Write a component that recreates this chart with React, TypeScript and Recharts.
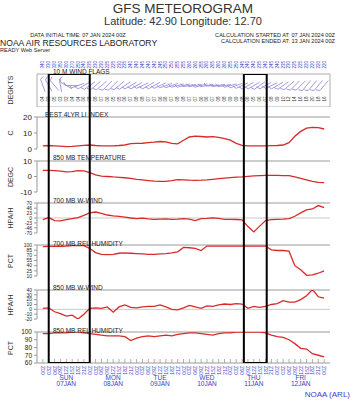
import React from 'react';
import {
  LineChart,
  Line,
  XAxis,
  YAxis,
  ReferenceLine,
  ReferenceArea,
  ScatterChart,
  Scatter,
} from 'recharts';

// 3-hourly steps, 07 JAN 00Z .. 13 JAN 00Z
const timeLabels = [
  '00Z', '03Z', '06Z', '09Z', '12Z', '15Z', '18Z', '21Z',
  '00Z', '03Z', '06Z', '09Z', '12Z', '15Z', '18Z', '21Z',
  '00Z', '03Z', '06Z', '09Z', '12Z', '15Z', '18Z', '21Z',
  '00Z', '03Z', '06Z', '09Z', '12Z', '15Z', '18Z', '21Z',
  '00Z', '03Z', '06Z', '09Z', '12Z', '15Z', '18Z', '21Z',
  '00Z', '03Z', '06Z', '09Z', '12Z', '15Z', '18Z', '21Z',
  '00Z',
];
const dayNames = ['SUN', 'MON', 'TUE', 'WED', 'THU', 'FRI'];
const dayDates = ['07JAN', '08JAN', '09JAN', '10JAN', '11JAN', '12JAN'];

const liIndex = [2, 2.2, 2, 1.8, 1.5, 1.7, 2, 2.3, 2.5, 2.2, 2, 2, 2, 2.2, 2.5, 3.3, 3.5, 3.6, 4, 4.3, 4.7, 4.5, 3.5, 3.2, 5.5, 7.5, 8, 7.8, 7.5, 7.7, 7.2, 6.5, 5.5, 3.5, 2.2, 2, 2, 2, 2, 2.1, 2.2, 2.5, 4, 8, 11, 13, 13.5, 13.3, 12.5];
const temp850 = [4, 4, 3.8, 3.5, 3, 3.2, 3.8, 3.6, 2.5, 1, 0.3, 0, -0.3, -0.5, -0.8, -1.2, -1.8, -2.2, -2.6, -3, -3.2, -3.1, -2.6, -2, -2.2, -2.4, -2.5, -2.4, -2.2, -1.8, -1.4, -1, -0.7, -0.4, -0.2, 0.1, 0.4, 0.6, 0.7, 0.7, 0.7, 0.6, 0.5, -0.3, -1.2, -2.2, -3.2, -3.8, -4];
const wind700 = [-8, 2, -12, -13, -8, -3, 2, 12, 24, 28, 22, 14, 10, 8, 4, 0, -3, -1, -4, -6, -5, -4, -6, -5, -3, -5, -12, -3, -2, 1, -2, -6, -6, -7, -9, -40, -65, -38, -12, -8, -6, -5, -3, 8, 24, 38, 42, 58, 48];
const rh700 = [95, 96, 96, 96, 97, 98, 99, 98, 90, 78, 73, 72, 73, 76, 77, 76, 75, 74, 73, 73, 74, 75, 77, 80, 93, 92, 90, 84, 97, 97, 97, 97, 97, 97, 97, 97, 97, 97, 97, 86, 84, 84, 82, 40, 28, 12, 13, 18, 25];
const wind850 = [2, 3, -5, -9, -14, -12, -20, -10, 2, 3, 2, 5, -6, 5, 9, 4, 3, 5, 6, 6, 9, 5, 0, -1, 3, 8, 5, 2, 7, 6, 9, 11, 10, 12, 11, 2, 6, 4, 6, 10, 12, 18, 15, 15, 20, 28, 41, 26, 23];
const rh850 = [98, 98, 99, 99, 99, 100, 100, 99, 98, 97, 96, 95, 95, 95, 94, 89, 92, 94, 95, 94, 95, 96, 95, 97, 98, 99, 99, 98, 97, 96, 98, 99, 99, 100, 100, 100, 100, 100, 99, 96, 94, 93, 90, 85, 79, 78, 72, 70, 68];
const windDir = [340, 330, 320, 350, 300, 270, 250, 240, 235, 230, 230, 225, 225, 230, 235, 240, 240, 245, 240, 240, 245, 250, 250, 255, 255, 260, 260, 255, 260, 265, 260, 260, 255, 250, 245, 240, 240, 235, 240, 245, 240, 235, 230, 225, 225, 220, 220, 220, 220];
const windSpd = [4, 3, 5, 3, 2, 4, 4, 6, 8, 8, 7, 6, 5, 5, 6, 7, 8, 8, 7, 7, 6, 6, 7, 8, 8, 7, 7, 6, 6, 7, 8, 8, 9, 9, 8, 6, 5, 6, 7, 8, 9, 10, 12, 14, 16, 18, 20, 18, 16];

// highlighted periods (in time steps)
const boxes = [
  { from: 1, to: 8 },
  { from: 34.3, to: 38.2 },
];

const rows = timeLabels.map((t, i) => ({
  i,
  t,
  li: liIndex[i],
  temp: temp850[i],
  w700: wind700[i],
  rh700: rh700[i],
  w850: wind850[i],
  rh850: rh850[i],
  dir: windDir[i],
  spd: windSpd[i],
  box: 0.5,
}));
const stepTicks = rows.map((r) => r.i);

const FONT = '"Liberation Sans", Arial, Helvetica, sans-serif';
const RED = '#d92a2a';
const BLUE = '#3c3cc8';
const BARB = '#8a82d8';
const AXIS = '#9a9a9a';
const X_DOMAIN = [-1, 49];
const W = 352;
const LEFT = 37;
const RIGHT = 22;
const PAD = 6;

const UpTick = (props: any) => {
  const { x, y } = props;
  return <line x1={x} x2={x} y1={y} y2={y - 4} stroke={AXIS} strokeWidth={0.8} />;
};

const TimeTick = (props: any) => {
  const { x, y, payload } = props;
  const i = payload.value;
  const day = i % 8 === 4 ? (i - 4) / 8 : -1;
  return (
    <g>
      <line x1={x} x2={x} y1={y} y2={y - 4} stroke={AXIS} strokeWidth={0.8} />
      <text
        x={x}
        y={y + 3}
        transform={`rotate(-90 ${x} ${y + 3})`}
        textAnchor="end"
        dominantBaseline="central"
        fontSize={5}
        fill={BLUE}
        fontFamily={FONT}
      >
        {timeLabels[i]}
      </text>
      {day >= 0 && (
        <text x={x} y={y + 17} textAnchor="middle" fontSize={6.5} fill={BLUE} fontFamily={FONT}>
          <tspan x={x}>{dayNames[day]}</tspan>
          <tspan x={x} dy={6}>{dayDates[day]}</tspan>
        </text>
      )}
    </g>
  );
};

const Barb = (props: any) => {
  const { cx, cy, payload } = props;
  const a = (payload.dir * Math.PI) / 180;
  const L = 13;
  const dx = Math.sin(a) * L;
  const dy = -Math.cos(a) * L;
  const x0 = cx - dx / 2;
  const y0 = cy - dy / 2;
  const x1 = cx + dx / 2;
  const y1 = cy + dy / 2;
  const fa = a + Math.PI / 3;
  const fx = x1 + Math.sin(fa) * 4;
  const fy = y1 - Math.cos(fa) * 4;
  return (
    <g>
      <line x1={x0} y1={y0} x2={x1} y2={y1} stroke={BARB} strokeWidth={0.8} />
      <line x1={x1} y1={y1} x2={fx} y2={fy} stroke={BARB} strokeWidth={0.8} />
      <text
        x={cx}
        y={cy + 11}
        transform={`rotate(-90 ${cx} ${cy + 11})`}
        textAnchor="end"
        dominantBaseline="central"
        fontSize={4.5}
        fill="#333"
        fontFamily={FONT}
      >
        {String(payload.spd).padStart(2, '0')}
      </text>
      <text
        x={cx}
        y={cy - 17}
        transform={`rotate(-90 ${cx} ${cy - 17})`}
        textAnchor="start"
        dominantBaseline="central"
        fontSize={4.5}
        fill={BLUE}
        fontFamily={FONT}
      >
        {payload.dir}
      </text>
    </g>
  );
};

type PanelProps = {
  top: number;
  height: number;
  dataKey: string;
  domain: number[];
  ticks: number[];
  minor: number[];
  fontSize?: number;
  zero?: boolean;
  last?: boolean;
};

const Panel = ({ top, height, dataKey, domain, ticks, minor, fontSize = 8, zero, last }: PanelProps) => {
  const axisH = last ? 32 : 0;
  const bottom = last ? 0 : PAD;
  return (
    <div style={{ position: 'absolute', left: 0, top: top - PAD }}>
      <LineChart
        width={W}
        height={height + axisH + PAD + bottom}
        data={rows}
        margin={{ top: PAD, right: RIGHT, bottom, left: 0 }}
      >
        <XAxis
          dataKey="i"
          type="number"
          domain={X_DOMAIN}
          ticks={stepTicks}
          interval={0}
          height={axisH}
          tickSize={0}
          tickMargin={0}
          tickLine={false}
          axisLine={{ stroke: AXIS }}
          tick={last ? <TimeTick /> : <UpTick />}
          allowDataOverflow
        />
        <YAxis
          yAxisId="l"
          domain={domain}
          ticks={ticks}
          interval={0}
          width={LEFT}
          tickSize={3}
          tickMargin={2}
          stroke={AXIS}
          tick={{ fontSize, fill: '#222', fontFamily: FONT }}
          allowDataOverflow
        />
        <YAxis
          yAxisId="r"
          orientation="right"
          domain={domain}
          ticks={minor}
          interval={0}
          width={0}
          tickSize={3}
          mirror
          tick={false}
          stroke={AXIS}
          allowDataOverflow
        />
        <ReferenceLine yAxisId="l" y={domain[1]} stroke={AXIS} />
        {zero && <ReferenceLine yAxisId="l" y={0} stroke="#c9c9c9" />}
        <Line
          yAxisId="l"
          type="linear"
          dataKey={dataKey}
          stroke={RED}
          strokeWidth={1.3}
          dot={false}
          isAnimationActive={false}
        />
      </LineChart>
    </div>
  );
};

const panelTitles = [
  { text: '10 M  WIND FLAGS', x: 53, y: 74 },
  { text: 'BEST 4LYR LI INDEX', x: 45, y: 117 },
  { text: '850 MB  TEMPERATURE', x: 53, y: 160 },
  { text: '700 MB  W-WIND', x: 53, y: 203 },
  { text: '700 MB  REL HUMIDITY', x: 53, y: 246 },
  { text: '850 MB  W-WIND', x: 53, y: 290 },
  { text: '850 MB  REL HUMIDITY', x: 53, y: 333 },
];
const axisNames = [
  { text: 'DEGKTS', y: 90 },
  { text: 'C', y: 133 },
  { text: 'DEGC', y: 177 },
  { text: 'HPA/H', y: 218 },
  { text: 'PCT', y: 261 },
  { text: 'HPA/H', y: 305 },
  { text: 'PCT', y: 348 },
];

export default function App() {
  return (
    <div style={{ position: 'absolute', left: 0, top: 0, width: W, height: 400, background: '#fff', fontFamily: FONT }}>
      {/* wind flags */}
      <div style={{ position: 'absolute', left: 0, top: 56 }}>
        <ScatterChart width={W} height={51} margin={{ top: 18, right: RIGHT, bottom: 0, left: LEFT }}>
          <XAxis dataKey="i" type="number" domain={X_DOMAIN} hide allowDataOverflow />
          <YAxis dataKey="y" type="number" domain={[0, 1]} hide />
          <ReferenceArea x1={-1} x2={49} y1={0} y2={1} fill="none" stroke={AXIS} strokeWidth={0.8} />
          <Scatter data={rows.map((r) => ({ ...r, y: 0.65 }))} shape={<Barb />} isAnimationActive={false} />
        </ScatterChart>
      </div>

      <Panel top={117} height={32} dataKey="li" domain={[0, 20]} ticks={[0, 10, 20]} minor={[0, 2, 4, 6, 8, 10, 12, 14, 16, 18, 20]} />
      <Panel top={161} height={31} dataKey="temp" domain={[-10, 10]} ticks={[-10, 0, 10]} minor={[-10, -5, 0, 5, 10]} />
      <Panel top={203} height={30} dataKey="w700" domain={[-70, 70]} ticks={[-70, -46, -23, 0, 23, 46, 70]} minor={[-70, -46, -23, 0, 23, 46, 70]} fontSize={5} zero />
      <Panel top={245} height={31} dataKey="rh700" domain={[10, 100]} ticks={[10, 25, 40, 55, 70, 85, 100]} minor={[10, 25, 40, 55, 70, 85, 100]} fontSize={5} />
      <Panel top={290} height={29} dataKey="w850" domain={[-20, 40]} ticks={[-20, -10, 0, 10, 20, 30, 40]} minor={[-20, -10, 0, 10, 20, 30, 40]} fontSize={5} zero />
      <Panel top={332} height={31} dataKey="rh850" domain={[60, 100]} ticks={[60, 70, 80, 90, 100]} minor={[60, 65, 70, 75, 80, 85, 90, 95, 100]} fontSize={6.5} last />

      {/* highlighted periods */}
      <div style={{ position: 'absolute', left: 0, top: 74 }}>
        <LineChart width={W} height={289} data={rows} margin={{ top: 0, right: RIGHT, bottom: 0, left: LEFT }}>
          <XAxis dataKey="i" type="number" domain={X_DOMAIN} hide allowDataOverflow />
          <YAxis type="number" domain={[0, 1]} hide allowDataOverflow />
          <Line dataKey="box" stroke="none" dot={false} isAnimationActive={false} />
          {boxes.map((b, k) => (
            <ReferenceArea
              key={k}
              x1={b.from}
              x2={b.to}
              y1={0}
              y2={1}
              fill="none"
              fillOpacity={0}
              stroke="#000"
              strokeWidth={2}
              ifOverflow="visible"
            />
          ))}
        </LineChart>
      </div>

      <svg width={W} height={400} style={{ position: 'absolute', left: 0, top: 0, pointerEvents: 'none' }}>
        <text x={183} y={13} textAnchor="middle" fontSize={13.5} fill="#333">GFS METEOROGRAM</text>
        <text x={183} y={25} textAnchor="middle" fontSize={11} fill="#333">Latitude: 42.90 Longitude:  12.70</text>
        <text x={78} y={37} textAnchor="middle" fontSize={5.6} fill="#222">DATA INITIAL TIME: 07 JAN 2024 00Z</text>
        <text x={335} y={37} textAnchor="end" fontSize={5.6} fill="#222">CALCULATION STARTED AT: 07 JAN 2024 00Z</text>
        <text x={335} y={43} textAnchor="end" fontSize={5.6} fill="#222">CALCULATION ENDED AT: 13 JAN 2024 00Z</text>
        <text x={0} y={46} fontSize={8.6} fill="#222">NOAA AIR RESOURCES LABORATORY</text>
        <text x={0} y={52} fontSize={5.6} fill="#222">READY Web Server</text>
        {panelTitles.map((p) => (
          <text key={p.text} x={p.x} y={p.y} fontSize={6.5} fill="#222">{p.text}</text>
        ))}
        {axisNames.map((a, k) => (
          <text
            key={k}
            x={10}
            y={a.y}
            transform={`rotate(-90 10 ${a.y})`}
            textAnchor="middle"
            dominantBaseline="central"
            fontSize={7}
            fill="#333"
          >
            {a.text}
          </text>
        ))}
        <text x={350} y={397} textAnchor="end" fontSize={8} fill={BLUE}>NOAA (ARL)</text>
      </svg>
    </div>
  );
}
